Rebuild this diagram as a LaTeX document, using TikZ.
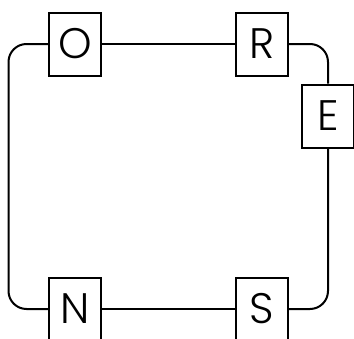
\documentclass[tikz,border=0pt]{standalone}
\usepackage{fontspec}
\setmainfont{Poppins Light}
\tikzset{
	letterbox/.style = {draw, line width = 1.5pt, minimum width = 39pt, minimum height = 47.25pt, inner sep = 0pt, font = \fontsize{32}{32}\selectfont},
	loop/.style = {line width = 1.5pt, rounded corners = 13.5pt}
}
\begin{document}
\begin{tikzpicture}[x = .75pt, y = -.75pt]
	\useasboundingbox (0,0) rectangle (354,339);
	\node[letterbox] (O) at (75,44) {O};
	\node[letterbox] (R) at (262,44) {R};
	\node[letterbox] (E) at (328,116) {E};
	\node[letterbox] (S) at (262,309) {S};
	\node[letterbox] (N) at (75,309) {N};
	\coordinate (lft) at (8.5,176); %left side of the loop
	\draw[loop] (O) -- (R); %top
	\draw[loop] (R.east) -| (E.north);
	\draw[loop] (E.south) |- (S.east);
	\draw[loop] (S) -- (N); %bottom
	\draw[loop] (N.west) -| (lft) |- (O.west);
\end{tikzpicture}
\end{document}
